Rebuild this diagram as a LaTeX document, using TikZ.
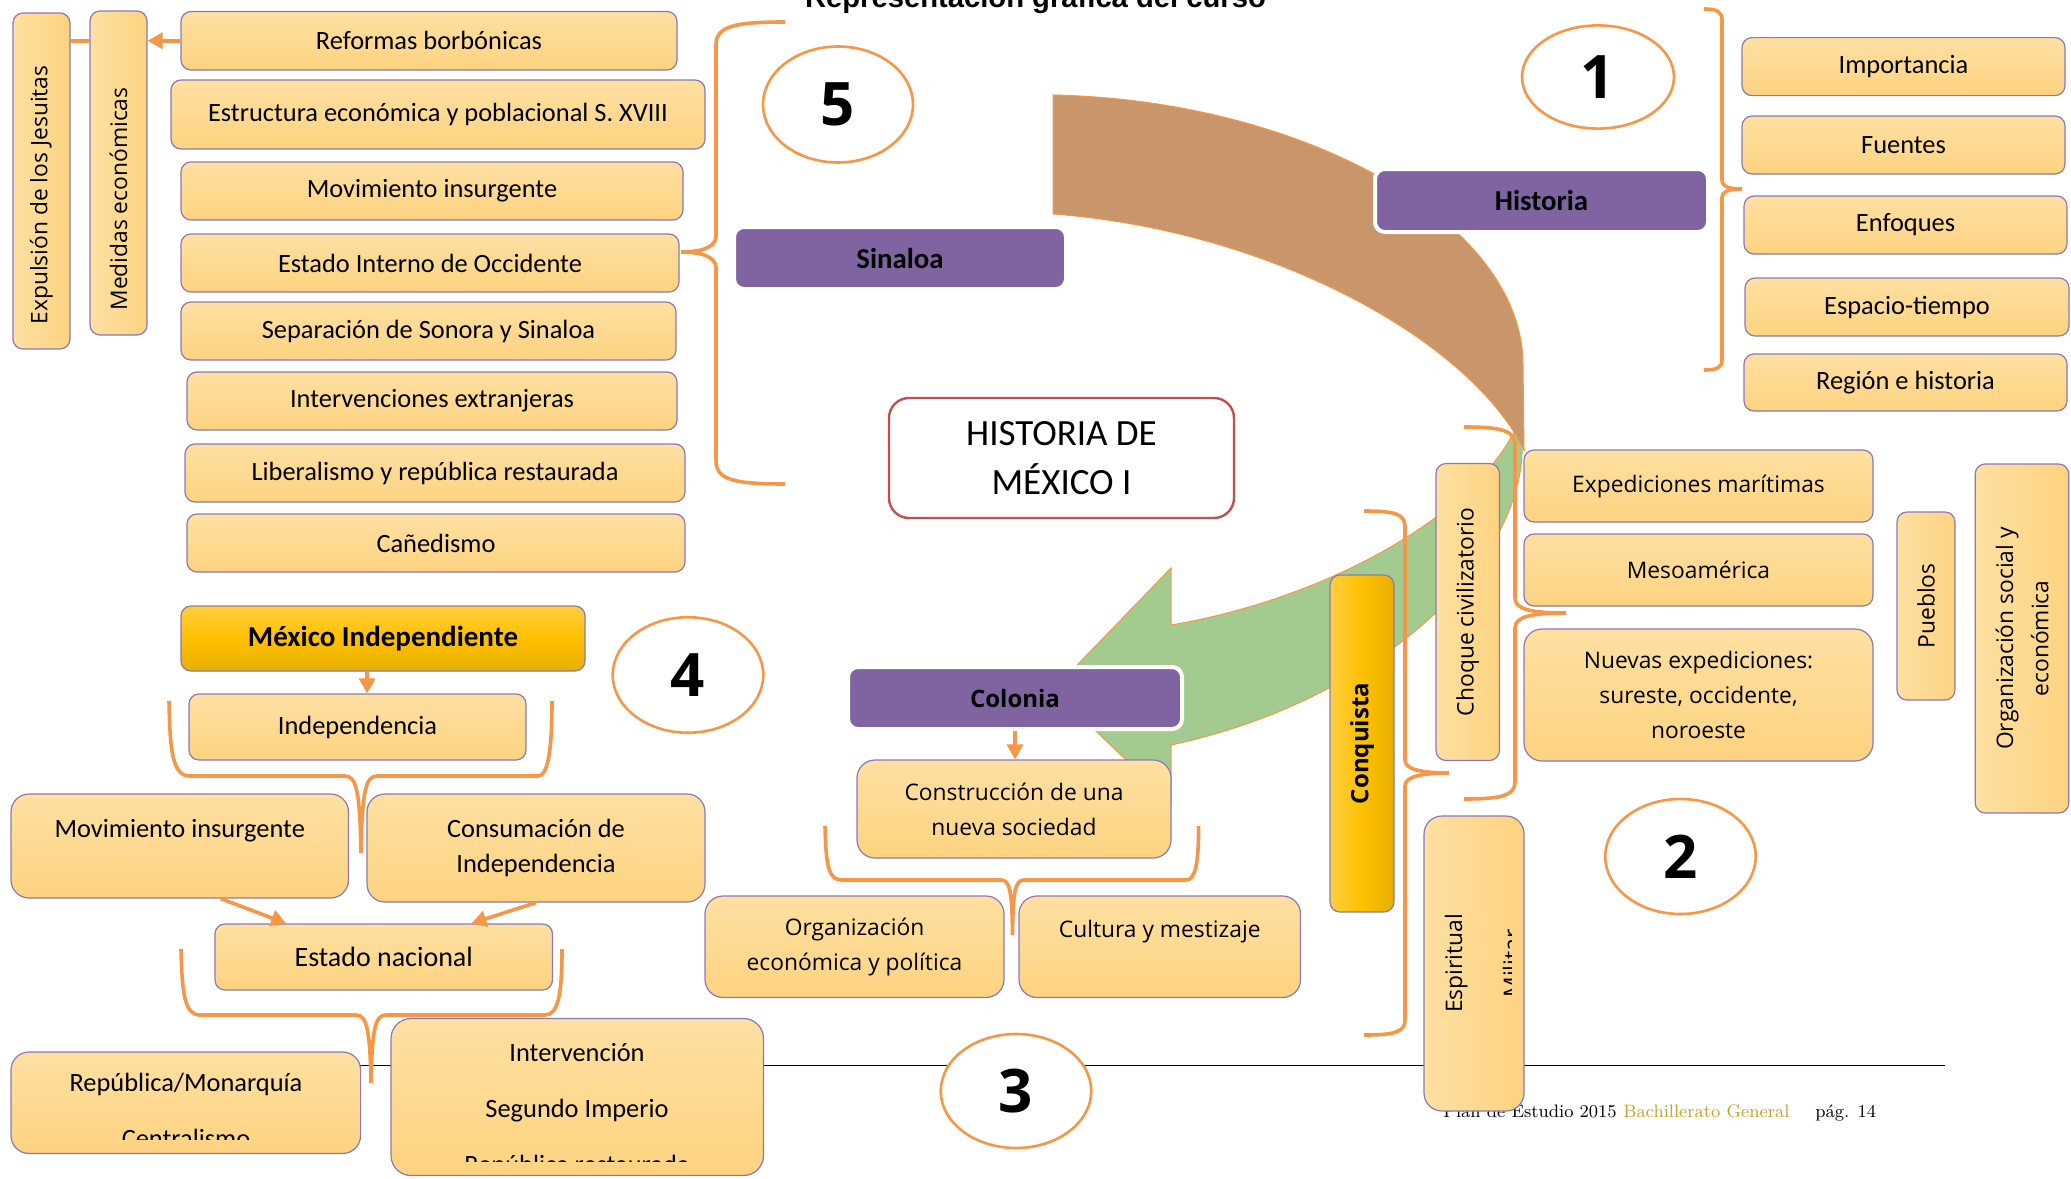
\documentclass[tikz,border=0pt]{standalone}
\usepackage{fontspec}
\usetikzlibrary{shapes.geometric,arrows.meta}
\newfontfamily\calib{Carlito}
\newfontfamily\osans{Open Sans}
\newfontfamily\arial{Liberation Sans}
\definecolor{naranja}{RGB}{247,150,70}
\definecolor{morado}{RGB}{128,100,162}
\definecolor{bordecaja}{RGB}{141,120,178}
\definecolor{cajaclaro}{RGB}{254,224,162}
\definecolor{cajaoscuro}{RGB}{253,211,128}
\definecolor{cafe}{RGB}{201,149,106}
\definecolor{verde}{RGB}{163,203,143}
\definecolor{oro}{RGB}{255,192,0}
\definecolor{oroclaro}{RGB}{255,206,64}
\definecolor{orooscuro}{RGB}{230,176,0}
\definecolor{rojizo}{RGB}{192,80,77}
\definecolor{dorado}{RGB}{204,160,40}

\begin{document}
\begin{tikzpicture}[x=0.5pt,y=-0.5pt,
		caja/.style={rounded corners=5pt, draw=bordecaja, line width=0.6pt, top color=cajaclaro, bottom color=cajaoscuro, inner sep=0pt, align=center, font=\calib\fontsize{13.2}{17.5}\selectfont},
		osa/.style={font=\osans\fontsize{11.4}{17.6}\selectfont},
		cajav/.style={caja, osa, rotate=90, shading angle=90},
		cajamorada/.style={rounded corners=5pt, fill=morado, draw=white, line width=2pt, inner sep=0pt, font=\calib\bfseries\fontsize{14.4}{17}\selectfont},
		cajaoro/.style={rounded corners=5pt, draw=bordecaja, line width=0.6pt, top color=oroclaro, bottom color=orooscuro, middle color=oro, inner sep=0pt},
		circulo/.style={ellipse, draw=naranja, line width=1.3pt, fill=white, inner sep=0pt, font=\osans\bfseries\fontsize{30}{30}\selectfont},
		texto/.style={inner sep=0pt, font=\calib\fontsize{13.2}{17.5}\selectfont},
		textov/.style={inner sep=0pt, font=\osans\fontsize{11.4}{17.6}\selectfont},
		pie/.style={inner sep=0pt, font=\fontsize{9}{10}\selectfont},
		llave/.style={draw=naranja, line width=1.8pt},
		flecha/.style={draw=naranja, line width=1.8pt, -{Triangle[length=7.5pt,width=8pt]}}]
		\useasboundingbox (0,0) rectangle (2071,1178);
		\clip (0,0) rectangle (2071,1178);
		\node[font=\arial\bfseries\fontsize{14.6}{16}\selectfont, anchor=base] (titulo) at (1035.5,8) {Representación gráfica del curso};
		\draw[line width=0.85pt] (200,1065.5) -- (1944.5,1065.5);
		\node[pie, anchor=base west] (plan) at (1443,1117) {Plan de Estudio 2015};
		\node[pie, anchor=base west, text=dorado] (bach) at (1623,1117) {Bachillerato General};
		\node[pie, anchor=base west] (pag) at (1815,1117) {pág. 14};
		\filldraw[fill=verde, draw=naranja, line width=0.5pt] (1522,440) .. controls (1528,560) and (1380,700) .. (1171,745) -- (1171,803) -- (1053,690) -- (1171,568) -- (1171,625) .. controls (1320,600) and (1470,520) .. (1515,430) -- cycle;
		\filldraw[fill=cafe, draw=naranja, line width=0.5pt] (1053,95) .. controls (1300,100) and (1523,220) .. (1523,365) -- (1524,450) .. controls (1470,340) and (1270,230) .. (1053,214) -- cycle;
		\draw[llave] (785,22) .. controls (735,22) and (716,26) .. (716,45) -- (716,236) .. controls (716,248) and (700,252) .. (681,252) .. controls (700,252) and (716,256) .. (716,268) -- (716,461) .. controls (716,480) and (735,484) .. (785,484);
		\draw[llave] (1704,9) .. controls (1716,9) and (1722,11) .. (1722,20) -- (1722,180) .. controls (1722,187) and (1730,189) .. (1742,189) .. controls (1730,189) and (1722,191) .. (1722,198) -- (1722,360) .. controls (1722,368) and (1716,370) .. (1704,370);
		\draw[llave] (1464,427) .. controls (1500,427) and (1515,430) .. (1515,445) -- (1515,598) .. controls (1515,609) and (1530,613) .. (1566,613) .. controls (1530,613) and (1515,617) .. (1515,628) -- (1515,782) .. controls (1515,796) and (1500,799) .. (1464,799);
		\draw[llave] (1364,511) .. controls (1395,511) and (1405,514) .. (1405,527) -- (1405,760) .. controls (1405,769) and (1420,773) .. (1449,773) .. controls (1420,773) and (1405,777) .. (1405,786) -- (1405,1020) .. controls (1405,1032) and (1395,1035) .. (1364,1035);
		\draw[llave] (169,701) .. controls (170,750) and (172,776) .. (190,776) -- (345,776) .. controls (356,776) and (360,790) .. (361,853) .. controls (362,790) and (366,776) .. (377,776) -- (538,776) .. controls (548,776) and (552,750) .. (552,701);
		\draw[llave] (181,949) .. controls (182,995) and (185,1015) .. (200,1015) -- (356,1015) .. controls (367,1015) and (370,1030) .. (371,1083) .. controls (372,1030) and (375,1015) .. (386,1015) -- (545,1015) .. controls (558,1015) and (562,995) .. (562,949);
		\draw[llave] (825,826) .. controls (826,865) and (828,880) .. (842,880) -- (1001,880) .. controls (1010,880) and (1012,892) .. (1012.5,935) .. controls (1013,892) and (1015,880) .. (1024,880) -- (1186,880) .. controls (1195,880) and (1198.6,865) .. (1198.6,826);
		\node[cajav, minimum width=168pt, minimum height=28.5pt] (expulsion) at (41.5,181) {Expulsión de los Jesuitas\hspace*{14pt}};
		\node[cajav, minimum width=162pt, minimum height=28.5pt] (medidas) at (118.5,173) {Medidas económicas\hspace*{26pt}};
		\node[caja, minimum width=248pt, minimum height=29.25pt] (reformas) at (429,40.75) {Reformas borbónicas};
		\node[caja, minimum width=267pt, minimum height=34.5pt] (estructura) at (438,114.5) {Estructura económica y poblacional S. XVIII};
		\node[caja, minimum width=251pt, minimum height=29pt] (movins) at (432,191) {Movimiento insurgente};
		\node[caja, minimum width=249pt, minimum height=29pt] (estint) at (430,263) {Estado Interno de Occidente};
		\node[caja, minimum width=247.5pt, minimum height=29pt] (separa) at (428.5,331) {Separación de Sonora y Sinaloa};
		\node[caja, minimum width=245pt, minimum height=29pt] (intext) at (432,401) {Intervenciones extranjeras};
		\node[caja, minimum width=250pt, minimum height=29pt] (libera) at (435,473) {Liberalismo y república restaurada};
		\node[caja, minimum width=249pt, minimum height=29pt] (canedismo) at (436,543) {Cañedismo};
		\draw[flecha] (reformas.west) -- (reformas.west -| medidas.south);
		\draw[llave] (medidas.north |- reformas.west) -- (expulsion.south |- reformas.west);
		\node[cajamorada, minimum width=166pt, minimum height=31pt] (sinaloa) at (900,258) {Sinaloa};
		\node[cajamorada, minimum width=166.5pt, minimum height=31.5pt] (historia) at (1541.5,200.5) {Historia};
		\node[cajamorada, font=\osans\bfseries\fontsize{12}{14}\selectfont, minimum width=167pt, minimum height=31pt] (colonia) at (1015,698) {Colonia};
		\node[rounded corners=10pt, draw=rojizo, line width=1.2pt, fill=white, align=center, inner sep=0pt, font=\calib\fontsize{18.5}{24.5}\selectfont, minimum width=172.5pt, minimum height=60pt] (histmx) at (1061.5,458) {HISTORIA DE\\MÉXICO I};
		\node[caja, minimum width=161.5pt, minimum height=29pt] (importancia) at (1903.5,66.6) {Importancia};
		\node[caja, minimum width=161.5pt, minimum height=29pt] (fuentes) at (1903.5,145) {Fuentes};
		\node[caja, minimum width=161.5pt, minimum height=29pt] (enfoques) at (1905.5,225) {Enfoques};
		\node[caja, minimum width=162pt, minimum height=29pt] (espacio) at (1907,307) {Espacio-tiempo};
		\node[caja, minimum width=161.5pt, minimum height=28.5pt] (region) at (1905.5,382.5) {Región e historia};
		\node[caja, osa, minimum width=174.5pt, minimum height=36pt] (expedic) at (1698.5,486) {Expediciones marítimas};
		\node[caja, osa, minimum width=174.5pt, minimum height=36pt] (mesoam) at (1698.5,570) {Mesoamérica};
		\node[caja, osa, rounded corners=9pt, minimum width=174.5pt, minimum height=66pt] (nuevas) at (1698.5,695) {Nuevas expediciones:\\sureste, occidente,\\noroeste};
		\node[cajav, minimum width=148.5pt, minimum height=31.7pt] (choque) at (1467.7,612) {Choque civilizatorio};
		\node[cajaoro, rotate=90, shading angle=90, font=\osans\bfseries\fontsize{12}{14}\selectfont, minimum width=168.5pt, minimum height=32pt] (conquista) at (1362,743.5) {Conquista};
		\node[cajav, minimum width=94pt, minimum height=29pt] (pueblos) at (1926,606) {Pueblos};
		\node[cajav, minimum width=174.5pt, minimum height=46.8pt] (orgsoc) at (2022,638.5) {Organización social y\\económica};
		\node[caja, rounded corners=9pt, shading angle=90, minimum width=50pt, minimum height=147.5pt] (espir) at (1474,963.5) {};
		\begin{scope}
			\clip (espir.south west) rectangle ([xshift=-6.5pt]espir.north east);
			\node[textov, rotate=90, anchor=base] (espir1) at (1462,963.5) {Espiritual};
			\node[textov, rotate=90, anchor=base] (espir2) at (1520,963.5) {Militar};
		\end{scope}
		\node[cajaoro, font=\calib\bfseries\fontsize{14.5}{17}\selectfont, minimum width=202pt, minimum height=32.5pt] (mexind) at (383,638.5) {México Independiente};
		\node[caja, minimum width=168.5pt, minimum height=33pt] (indep) at (357.5,727) {Independencia};
		\node[caja, rounded corners=9pt, minimum width=168.75pt, minimum height=52pt] (movins2) at (179.75,846) {Movimiento insurgente\\\mbox{}};
		\node[caja, rounded corners=9pt, minimum width=169pt, minimum height=54pt] (consum) at (536,848) {Consumación de\\Independencia};
		\node[caja, font=\calib\fontsize{14}{17}\selectfont, minimum width=168.75pt, minimum height=33pt] (estado) at (383.75,957) {Estado nacional};
		\node[caja, rounded corners=9pt, minimum width=174.8pt, minimum height=50.75pt] (repub) at (185.8,1102.75) {};
		\begin{scope}
			\clip (repub.north west) rectangle ([yshift=7.25pt]repub.south east);
			\node[texto, anchor=base] (repub1) at (186,1091) {República/Monarquía};
			\node[texto, anchor=base] (repub2) at (186,1147) {Centralismo};
		\end{scope}
		\node[caja, rounded corners=10pt, minimum width=186.25pt, minimum height=78.5pt] (intervsi) at (577.25,1097) {};
		\begin{scope}
			\clip (intervsi.north west) rectangle ([yshift=7.5pt]intervsi.south east);
			\node[texto, anchor=base] (interv1) at (577,1061) {Intervención};
			\node[texto, anchor=base] (interv2) at (577,1117) {Segundo Imperio};
			\node[texto, anchor=base] (interv3) at (577,1173) {República restaurada};
		\end{scope}
		\draw[flecha] (indep.74.5 |- mexind.south) -- (indep.74.5);
		\draw[flecha] (movins2.308) -- (estado.161);
		\draw[flecha] (consum.south) -- (estado.21);
		\node[caja, osa, rounded corners=9pt, minimum width=157pt, minimum height=49pt] (constr) at (1014,809) {Construcción de una\\nueva sociedad};
		\node[caja, osa, rounded corners=9pt, minimum width=149.5pt, minimum height=50.75pt] (orgeco) at (854.5,946.75) {Organización\\económica y política};
		\node[caja, osa, rounded corners=9pt, minimum width=140.75pt, minimum height=50.75pt] (cultura) at (1159.75,946.75) {Cultura y mestizaje\\\mbox{}};
		\draw[flecha] (colonia.south) -- (colonia.south |- constr.north);
		\node[circulo, minimum width=75pt, minimum height=58pt] (c5) at (838,104.5) {5};
		\node[circulo, minimum width=76pt, minimum height=51.6pt] (c1) at (1598,77) {1};
		\node[circulo, minimum width=75.3pt, minimum height=57.75pt] (c4) at (688,675) {4};
		\node[circulo, minimum width=75.25pt, minimum height=57pt] (c3) at (1016,1091) {3};
		\node[circulo, minimum width=75.25pt, minimum height=57.5pt] (c2) at (1680.5,856.5) {2};
	\end{tikzpicture}
\end{document}
